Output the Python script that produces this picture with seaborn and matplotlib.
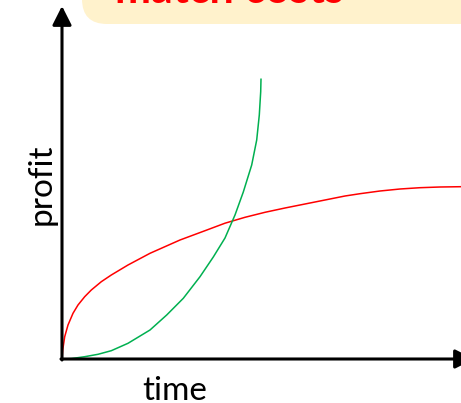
import matplotlib
matplotlib.use("Agg")
import matplotlib.pyplot as plt
import seaborn as sns
import numpy as np
import pandas as pd
from matplotlib.patches import FancyBboxPatch
from matplotlib.transforms import IdentityTransform

# ---- data (arbitrary units) ----
red_time = [0, 0.7, 2.7, 6, 11, 16, 22.7, 29.3, 39.3, 49.3, 66, 88, 118, 143,
            163, 183, 203, 223, 243, 263, 283, 298, 318, 338, 358, 378, 399]
red_profit = [0, 9, 22.3, 34, 45.7, 54, 62.3, 69, 77.3, 84, 94, 105.7, 119,
              128.3, 135.8, 141.7, 146.7, 151, 155, 159, 163, 165.3, 168, 170,
              171.3, 172, 172.3]
green_time = [0, 9.3, 22.7, 36, 49.3, 66, 88, 104.7, 121.3, 138, 151.3, 163,
              173, 181.3, 189.7, 194.7, 197.3, 198.7, 199]
green_profit = [0, 0.4, 2.3, 4.7, 8.3, 15.7, 29, 44, 60.7, 82.3, 102, 121,
                144, 167, 194, 219, 244, 267.3, 280]
x_label = "time"
y_label = "profit"
title_text = "match costs"

W, H = 461, 403
fig = plt.figure(figsize=(W / 100, H / 100), dpi=100)
sns.set_style("white")
plt.rcParams["font.family"] = ["Lato", "DejaVu Sans"]

ox, oy = 62, 359  # origin pixel
ax = fig.add_axes([ox / W, (H - oy) / H, (W - ox) / W, oy / H])
ax.set_xlim(0, W - ox)
ax.set_ylim(0, oy)
for s in ax.spines.values():
    s.set_visible(False)
ax.set_xticks([])
ax.set_yticks([])
ax.patch.set_alpha(0)

sns.lineplot(x=red_time, y=red_profit, color="#FF0000", lw=1.1, sort=False,
             estimator=None, ax=ax, clip_on=False)
sns.lineplot(x=green_time, y=green_profit, color="#00B050", lw=1.1, sort=False,
             estimator=None, ax=ax, clip_on=False)

arrow = dict(arrowstyle="-|>,head_length=1.15,head_width=0.58", color="black",
             lw=2.2, mutation_scale=10, shrinkA=0, shrinkB=0)
ax.annotate("", xy=(0, 353), xytext=(0, -1), arrowprops=arrow, annotation_clip=False)
ax.annotate("", xy=(412, 0), xytext=(-1, 0), arrowprops=arrow, annotation_clip=False)

fig.text(175 / W, 1 - 400 / H, x_label, ha="center", va="baseline", fontsize=24,
         color="black")
fig.text(42 / W, 1 - 184 / H, y_label, ha="center", va="center", rotation=90,
         fontsize=24, color="black")

box = FancyBboxPatch((82, H - 24), 500, 80, boxstyle="round,pad=0,rounding_size=25",
                     transform=IdentityTransform(), facecolor="#FFF2CC",
                     edgecolor="none")
fig.patches.append(box)
fig.text(115 / W, 1 - 3 / H, title_text, ha="left", va="baseline", fontsize=31,
         color="#FF0000", fontweight="bold")

ax.set_xlabel("")
ax.set_ylabel("")
fig.savefig("out.png", dpi=100)
